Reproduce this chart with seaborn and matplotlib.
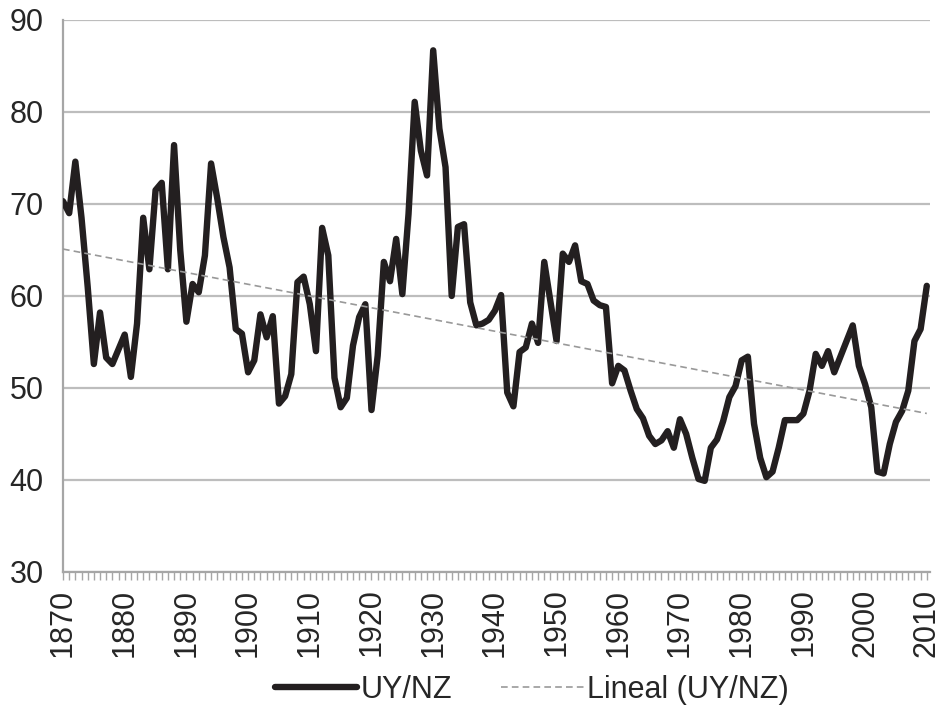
import numpy as np
import pandas as pd
import seaborn as sns
import matplotlib.pyplot as plt
from matplotlib.ticker import MultipleLocator

# UY/NZ ratio, one value per year 1870-2010
years = list(range(1870, 2011))
uy_nz = [
    70.3, 69.0, 74.6, 68.5, 61.0, 52.6, 58.2, 53.3, 52.6, 54.2,   # 1870s
    55.8, 51.2, 57.0, 68.5, 62.9, 71.5, 72.3, 62.9, 76.4, 65.0,   # 1880s
    57.2, 61.3, 60.4, 64.4, 74.4, 70.6, 66.4, 63.1, 56.4, 55.9,   # 1890s
    51.7, 53.0, 58.0, 55.5, 57.8, 48.3, 49.1, 51.5, 61.5, 62.1,   # 1900s
    59.1, 54.0, 67.4, 64.4, 51.1, 47.9, 48.9, 54.6, 57.7, 59.1,   # 1910s
    47.6, 53.5, 63.7, 61.6, 66.2, 60.2, 68.9, 81.1, 75.8, 73.1,   # 1920s
    86.7, 78.2, 74.0, 60.0, 67.5, 67.8, 59.3, 56.8, 57.0, 57.4,   # 1930s
    58.4, 60.1, 49.5, 48.0, 53.9, 54.4, 57.0, 54.9, 63.7, 59.4,   # 1940s
    55.1, 64.6, 63.7, 65.5, 61.6, 61.3, 59.5, 59.0, 58.8, 50.5,   # 1950s
    52.4, 51.9, 49.7, 47.7, 46.7, 44.8, 43.9, 44.3, 45.3, 43.5,   # 1960s
    46.6, 45.0, 42.4, 40.1, 39.9, 43.5, 44.4, 46.4, 49.0, 50.2,   # 1970s
    53.0, 53.4, 46.1, 42.4, 40.3, 40.9, 43.5, 46.5, 46.5, 46.5,   # 1980s
    47.2, 49.7, 53.7, 52.4, 54.0, 51.7, 53.4, 55.1, 56.8, 52.4,   # 1990s
    50.4, 47.9, 40.9, 40.7, 43.9, 46.3, 47.5, 49.7, 55.1, 56.4,   # 2000s
    61.1,                                                         # 2010
]

df = pd.DataFrame({'Año': years, 'UY/NZ': uy_nz})

# tendencia lineal (como la de Excel)
pendiente, intercepto = np.polyfit(df['Año'], df['UY/NZ'], 1)
df['Lineal'] = intercepto + pendiente * df['Año']

sns.set_style('white')
plt.rcParams['font.family'] = ['Liberation Sans', 'DejaVu Sans']

fig = plt.figure(figsize=(9.46, 7.14), dpi=100)
ax = fig.add_axes([0.0666, 0.199, 0.917, 0.773])

ax.yaxis.grid(True, color='#bdbdbd', linewidth=1.6)
ax.set_axisbelow(True)

sns.lineplot(x='Año', y='UY/NZ', data=df, ax=ax, color='#231f20',
             linewidth=4.6, label='UY/NZ', zorder=3)
ax.lines[-1].set_solid_joinstyle('round')
sns.lineplot(x='Año', y='Lineal', data=df, ax=ax, color='#999999',
             linewidth=1.2, dashes=False, label='Lineal (UY/NZ)', zorder=4)
ax.lines[-1].set_dashes((4, 2.5))

ax.set_xlim(1870, 2010.6)
ax.set_ylim(30, 90)
ax.set_yticks(range(30, 91, 10))
ax.xaxis.set_major_locator(MultipleLocator(10))
ax.xaxis.set_minor_locator(MultipleLocator(1))
ax.set_xticks(range(1870, 2011, 10))

ax.tick_params(axis='x', which='both', direction='out', length=6, width=1,
               color='#a6a6a6', labelsize=22, labelrotation=90, pad=6,
               bottom=True)
ax.tick_params(axis='y', length=0, labelsize=22, pad=14)

for lado in ['top', 'right']:
    ax.spines[lado].set_visible(False)
for lado in ['left', 'bottom']:
    ax.spines[lado].set_color('#a6a6a6')
    ax.spines[lado].set_linewidth(1.6)

ax.set_xlabel('')
ax.set_ylabel('')

ax.get_legend().remove()
handles, labels = ax.get_legend_handles_labels()
fig.legend(handles, labels, loc='center', bbox_to_anchor=(0.562, 0.034),
           ncol=2, frameon=False, fontsize=22, handlelength=2.7,
           handletextpad=0.1, columnspacing=1.6)

plt.savefig('out.png', dpi=100)
